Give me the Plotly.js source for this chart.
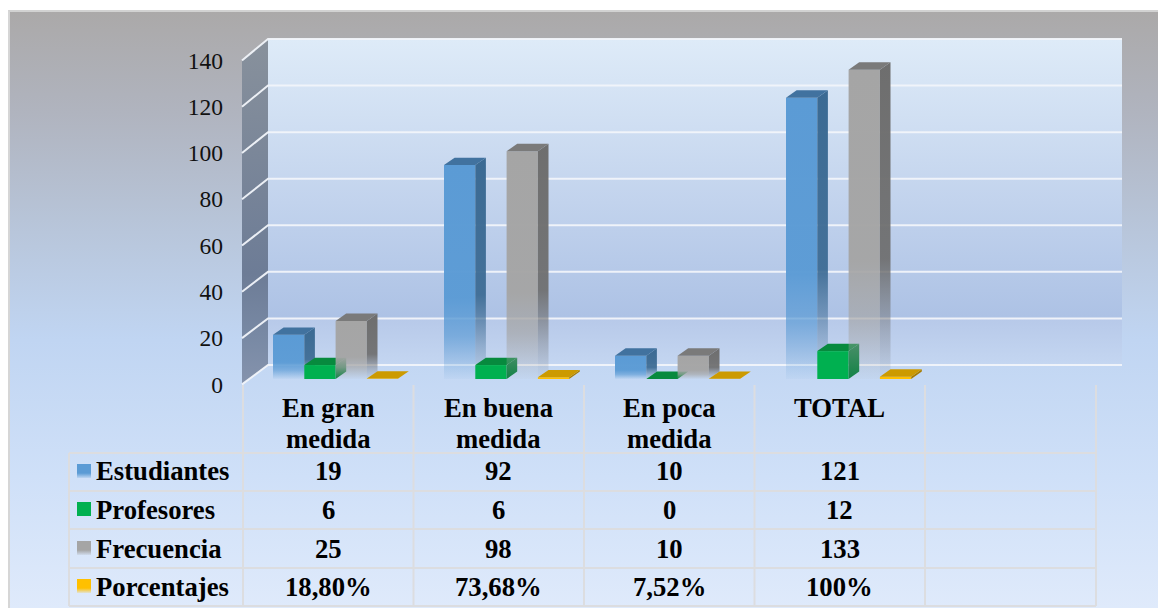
<!DOCTYPE html>
<html>
<head>
<meta charset="utf-8">
<script src="https://cdn.plot.ly/plotly-3.0.1.min.js"></script>
<style>
html,body{margin:0;padding:0;background:#fff;width:1158px;height:608px;overflow:hidden}
#frame{position:absolute;left:8px;top:10px;width:1150px;height:598px;box-sizing:border-box;
border-left:2px solid #d6d6d6;border-top:2px solid #d2d2d2;
background:linear-gradient(180deg,#aba9a9 0%,#b0b4bf 17%,#b8c6db 37%,#c0d5f2 55%,#cfe0f8 78%,#dfeafb 100%)}
#chart{position:absolute;left:0;top:0;width:1158px;height:608px}
</style>
</head>
<body>
<div id="frame"></div>
<div id="chart"></div>
<script>
// ---- data ----
const categories = ['En gran medida', 'En buena medida', 'En poca medida', 'TOTAL'];
const seriesNames = ['Estudiantes', 'Profesores', 'Frecuencia', 'Porcentajes'];
const estudiantes = [19, 92, 10, 121];
const profesores = [6, 6, 0, 12];
const frecuencia = [25, 98, 10, 133];
const porcentajes = [0.188, 0.7368, 0.0752, 1];
const porcentajesLabels = ['18,80%', '73,68%', '7,52%', '100%'];
const yTicks = [0, 20, 40, 60, 80, 100, 120, 140];

// ---- styles ----
const fronts = ['#5B9BD5', '#00B050', '#A5A5A5', '#FFC000'];
const sideRGB = ['59,106,147', '10,128,64', '110,110,110', '166,124,0'];
const tops = ['#41729F', '#078A3E', '#7A7A7A', '#CC9A00'];
const fade = [true, false, true, false];
const SERIF = '"Liberation Serif", "Times New Roman", serif';
const W = 1158, H = 608;
const X0 = 335.6, PX_PER_CAT = 171;     // pixel of category 0 centre, pixels per category
const BAR_W = 31.3 / PX_PER_CAT;
const DEPTH_X = 10.6 / PX_PER_CAT;
const BAR_ZERO = 379, BAR_SCALE = 2.325, DEPTH_Y = 7.4 / BAR_SCALE;
const AX_ZERO = 384.4, AX_SCALE = 2.3143;
const xOf = px => (px - X0) / PX_PER_CAT;
const yOf = px => (AX_ZERO - px) / AX_SCALE;
const xRange = [xOf(0), xOf(W)];
const xIdx = categories.map((_, i) => i);
const allSeries = [estudiantes, profesores, frecuencia, porcentajes];

const traces = [];
const face = (xs, ys, xa, ya, extra) => Object.assign({
  type: 'scatter', mode: 'lines', x: xs, y: ys, xaxis: xa, yaxis: ya, fill: 'toself',
  line: {width: 0}, hoverinfo: 'skip', showlegend: false
}, extra);
const vGrad = stops => ({fillgradient: {type: 'vertical', colorscale: stops}});

// walls on the base axes
const wallL = 268, wallR = 1122, wallTop = 39, wallBot = 365, frontX = 242;
traces.push(face([frontX, wallL, wallL, frontX, frontX].map(xOf), [60, wallTop, wallBot, 384, 60].map(yOf), 'x', 'y',
  vGrad([[0, '#8593ad'], [0.14, '#7889a4'], [0.32, '#6d7c96'], [1, '#88919c']])));
traces.push(face([wallL, wallR, wallR, wallL, wallL].map(xOf), [wallTop, wallTop, wallBot, wallBot, wallTop].map(yOf), 'x', 'y',
  vGrad([[0, '#c4d6f1'], [0.143, '#b7c9e9'], [0.145, '#adc2e5'], [0.5, '#c2d3ed'], [1, '#deebf8']])));
// gridlines: front edge, along the side wall, along the back wall
const backY = v => yOf(wallBot - (wallBot - wallTop) / 140 * v);
const gx = [], gy = [];
yTicks.forEach(v => {
  gx.push(xOf(frontX), xOf(wallL), xOf(wallR), null);
  gy.push(v, backY(v), backY(v), null);
});
traces.push({type: 'scatter', mode: 'lines', x: gx, y: gy, xaxis: 'x', yaxis: 'y',
  line: {color: 'rgba(241,244,250,0.95)', width: 2}, hoverinfo: 'skip', showlegend: false});

// legend keys in the table
const keyRows = [471, 509, 548, 586];
seriesNames.forEach((n, s) => {
  const c = fronts[s];
  const t = c + '28';
  const cs = fade[s] || s === 3 ? [[0, t], [0.35, c], [1, c]] : [[0, c], [1, c]];
  traces.push(face([77, 91, 91, 77, 77].map(xOf), [-7, -7, 7, 7, -7].map(d => yOf(keyRows[s] + d)), 'x', 'y', vGrad(cs)));
});

// one overlaid axis pair per series, so that later series paint over earlier ones
allSeries.forEach((vals, s) => {
  const n = s + 2, xa = 'x' + n, ya = 'y' + n;
  const off = (s - 2) * BAR_W;
  traces.push({type: 'bar', name: seriesNames[s], x: xIdx, y: vals, xaxis: xa, yaxis: ya,
    width: BAR_W, offset: off, marker: {color: fronts[s], line: {width: 0}}, showlegend: false});
  vals.forEach((v, i) => {
    const l = i + off, r = l + BAR_W;
    const rgb = sideRGB[s];
    const cs = fade[s]
      ? [[0, `rgba(${rgb},0.05)`], [0.15, `rgba(${rgb},0.35)`], [0.38, `rgba(${rgb},0.93)`], [1, `rgba(${rgb},1)`]]
      : [[0, `rgba(${rgb},1)`], [1, `rgba(${rgb},1)`]];
    traces.push(face([r, r + DEPTH_X, r + DEPTH_X, r, r], [0, DEPTH_Y, v + DEPTH_Y, v, 0], xa, ya, vGrad(cs)));
    traces.push(face([l, l + DEPTH_X, r + DEPTH_X, r, l], [v, v + DEPTH_Y, v + DEPTH_Y, v, v], xa, ya, {fillcolor: tops[s]}));
  });
});

// table
const font = {family: SERIF, size: 26.7, color: '#000', weight: 700};
const colX = [243, 413.5, 584, 754.5, 925, 1096];
const rowY = [453, 491, 529, 568, 606];
const shapes = [];
const line = (x0, y0, x1, y1) => shapes.push({type: 'line', xref: 'paper', yref: 'paper', layer: 'above',
  x0: x0 / W, x1: x1 / W, y0: 1 - y0 / H, y1: 1 - y1 / H, line: {color: '#dcdde0', width: 2}});
colX.forEach(x => line(x, 385, x, 606));
line(69, 453, 69, 606);
rowY.forEach(y => line(69, y, 1096, y));
const annotations = [];
const txt = (t, px, py, anchor) => annotations.push({text: t, xref: 'paper', yref: 'paper', x: px / W, y: 1 - py / H,
  xanchor: anchor, yanchor: 'middle', showarrow: false, font: font});
const cellCenter = i => (colX[i] + colX[i + 1]) / 2;
categories.forEach((c, i) => {
  const k = c.lastIndexOf(' ');
  if (k > 0) { txt(c.slice(0, k), cellCenter(i), 408, 'center'); txt(c.slice(k + 1), cellCenter(i), 439, 'center'); }
  else txt(c, cellCenter(i), 408, 'center');
});
const rows = [estudiantes, profesores, frecuencia, porcentajesLabels];
const rowMid = [471, 510, 549, 587];
rows.forEach((r, s) => {
  txt(seriesNames[s], 94, rowMid[s], 'left');
  r.forEach((v, i) => txt(String(v), cellCenter(i), rowMid[s], 'center'));
});

const layout = {
  width: W, height: H, margin: {l: 0, r: 0, t: 0, b: 0, pad: 0},
  font: {family: SERIF},
  paper_bgcolor: 'rgba(0,0,0,0)', plot_bgcolor: 'rgba(0,0,0,0)', showlegend: false, barmode: 'overlay',
  xaxis: {range: xRange, visible: false, domain: [0, 1], fixedrange: true},
  yaxis: {range: [yOf(H), yOf(0)], anchor: 'free', position: frontX / W, domain: [0, 1],
    tickvals: yTicks, ticktext: yTicks.map(String), showgrid: false, zeroline: false, showline: false,
    ticks: '', ticklabelstandoff: 19, tickfont: {family: SERIF, size: 23.5, color: '#111'},
    fixedrange: true},
  shapes: shapes, annotations: annotations
};
allSeries.forEach((_, s) => {
  const n = s + 2;
  layout['xaxis' + n] = {range: xRange, visible: false, overlaying: 'x', anchor: 'y' + n, fixedrange: true};
  layout['yaxis' + n] = {range: [(BAR_ZERO - H) / BAR_SCALE, BAR_ZERO / BAR_SCALE], visible: false,
    overlaying: 'y', anchor: 'x' + n, fixedrange: true};
});

Plotly.newPlot('chart', traces, layout, {displayModeBar: false, staticPlot: true}).then(gd => {
  // fading fronts for the two series that fade towards the floor
  const NS = 'http://www.w3.org/2000/svg';
  const svg = gd.querySelector('svg.main-svg');
  const defs = document.createElementNS(NS, 'defs');
  svg.insertBefore(defs, svg.firstChild);
  allSeries.forEach((_, s) => {
    if (!fade[s]) return;
    const g = document.createElementNS(NS, 'linearGradient');
    g.setAttribute('id', 'barFade' + s);
    g.setAttribute('x1', '0'); g.setAttribute('y1', '0'); g.setAttribute('x2', '0'); g.setAttribute('y2', '1');
    [[0, 1], [0.62, 0.97], [0.8, 0.68], [0.92, 0.3], [1, 0.05]].forEach(([o, a]) => {
      const st = document.createElementNS(NS, 'stop');
      st.setAttribute('offset', o); st.setAttribute('stop-color', fronts[s]); st.setAttribute('stop-opacity', a);
      g.appendChild(st);
    });
    defs.appendChild(g);
    gd.querySelectorAll(`.x${s + 2}y${s + 2} .barlayer .point path, .x${s + 2}y${s + 2}.barlayer .point path`).forEach(p => {
      p.style.setProperty('fill', `url(#barFade${s})`);
    });
  });
  gd.querySelectorAll('.ytick text, .yaxislayer-above text, .yaxislayer-below text').forEach(t => {
    t.style.setProperty('font-family', SERIF, 'important');
  });
});
</script>
</body>
</html>
